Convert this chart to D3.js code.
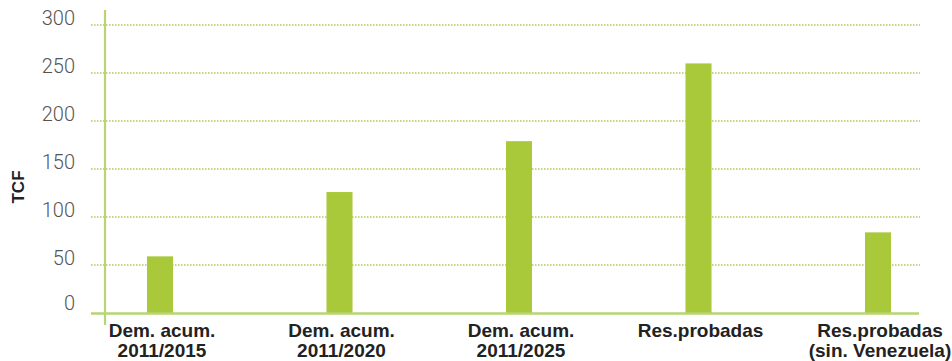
<!DOCTYPE html>
<html>
<head>
<meta charset="utf-8">
<script src="https://cdn.jsdelivr.net/npm/d3@7"></script>
<style>
  html, body { margin: 0; padding: 0; background: #fff; }
  svg { display: block; }
</style>
</head>
<body>
<svg id="chart" width="952" height="361"></svg>
<script>
// Gas volumes in trillion cubic feet (TCF)
const categories = [
  ["Dem. acum.", "2011/2015"],
  ["Dem. acum.", "2011/2020"],
  ["Dem. acum.", "2011/2025"],
  ["Res.probadas"],
  ["Res.probadas", "(sin. Venezuela)"]
];
const values = [59, 126, 179, 260, 84];
const yTicks = [0, 50, 100, 150, 200, 250, 300];
const yTitle = "TCF";

const svg = d3.select("#chart");
const keys = categories.map(c => c.join(" "));

const x = d3.scaleBand()
  .domain(keys)
  .range([70.25, 967.75])
  .paddingInner(0.855)
  .paddingOuter(0.4275);

const y = d3.scaleLinear().domain([0, 300]).range([313, 25]);

const green = "#a9c93a";
const axisGreen = "#b8d473";
const gridGreen = "#aecb55";

// dotted gridlines
svg.append("g")
  .selectAll("line")
  .data(yTicks.filter(d => d > 0))
  .join("line")
  .attr("x1", 91).attr("x2", 920)
  .attr("y1", d => y(d)).attr("y2", d => y(d))
  .attr("stroke", gridGreen)
  .attr("stroke-width", 1.3)
  .attr("stroke-dasharray", "1.5,1.5");

// tick labels
svg.append("g")
  .selectAll("text")
  .data(yTicks)
  .join("text")
  .attr("x", 75)
  .attr("y", d => y(d) - (d === 0 ? 3 : 0))
  .attr("text-anchor", "end")
  .attr("font-family", "Roboto, 'Open Sans', sans-serif")
  .attr("font-weight", 300)
  .attr("font-size", 20)
  .attr("fill", "#555")
  .text(d => d);

// bars
svg.append("g")
  .selectAll("rect")
  .data(values)
  .join("rect")
  .attr("x", (d, i) => x(keys[i]))
  .attr("width", x.bandwidth())
  .attr("y", d => y(d))
  .attr("height", d => y(0) - y(d))
  .attr("fill", green);

// axis lines
svg.append("line")
  .attr("x1", 91).attr("x2", 919)
  .attr("y1", y(0) + 0.5).attr("y2", y(0) + 0.5)
  .attr("stroke", axisGreen).attr("stroke-width", 2.5);
svg.append("line")
  .attr("x1", 105).attr("x2", 105)
  .attr("y1", 10).attr("y2", 325)
  .attr("stroke", axisGreen).attr("stroke-width", 2.2);

// category labels
const lab = svg.append("g")
  .selectAll("text")
  .data(categories)
  .join("text")
  .attr("x", (d, i) => x(keys[i]) + x.bandwidth() / 2 + 2)
  .attr("y", 337)
  .attr("text-anchor", "middle")
  .attr("font-family", "'Liberation Sans', Arial, sans-serif")
  .attr("font-weight", 700)
  .attr("font-size", 19)
  .attr("fill", "#222");
lab.selectAll("tspan")
  .data(d => d)
  .join("tspan")
  .attr("x", function () { return d3.select(this.parentNode).attr("x"); })
  .attr("dy", (d, i) => i === 0 ? 0 : 19.5)
  .text(d => d);

// y title
svg.append("text")
  .attr("transform", "translate(24,187) rotate(-90)")
  .attr("text-anchor", "middle")
  .attr("font-family", "'Liberation Sans', Arial, sans-serif")
  .attr("font-weight", 700)
  .attr("font-size", 17)
  .attr("fill", "#222")
  .text(yTitle);
</script>
</body>
</html>
